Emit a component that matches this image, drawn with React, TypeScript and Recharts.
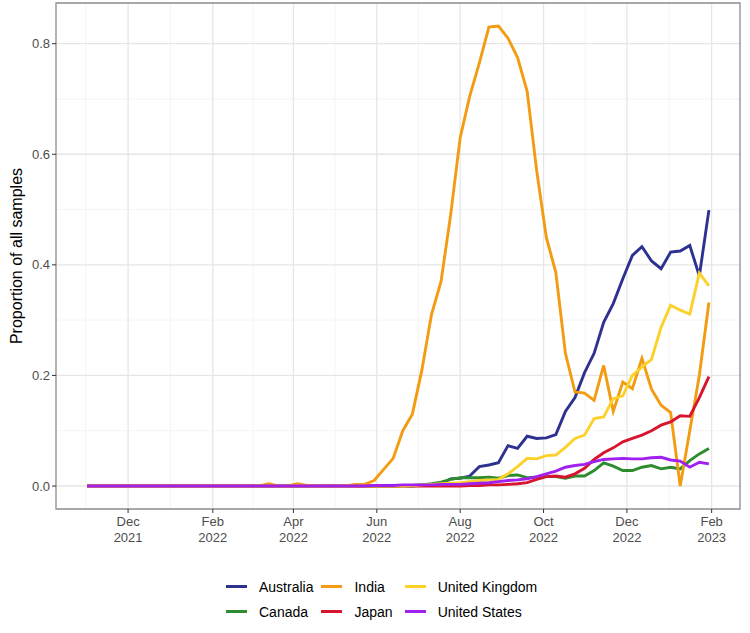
import React from "react";
import {
  LineChart,
  Line,
  XAxis,
  YAxis,
  CartesianGrid,
  ReferenceArea,
} from "recharts";

/* weekly sample dates (week start) */
const weeks = [
  "2021-11-01", "2021-11-08", "2021-11-15", "2021-11-22", "2021-11-29",
  "2021-12-06", "2021-12-13", "2021-12-20", "2021-12-27",
  "2022-01-03", "2022-01-10", "2022-01-17", "2022-01-24", "2022-01-31",
  "2022-02-07", "2022-02-14", "2022-02-21", "2022-02-28",
  "2022-03-07", "2022-03-14", "2022-03-21", "2022-03-28",
  "2022-04-04", "2022-04-11", "2022-04-18", "2022-04-25",
  "2022-05-02", "2022-05-09", "2022-05-16", "2022-05-23", "2022-05-30",
  "2022-06-06", "2022-06-13", "2022-06-20", "2022-06-27",
  "2022-07-04", "2022-07-11", "2022-07-18", "2022-07-25",
  "2022-08-01", "2022-08-08", "2022-08-15", "2022-08-22", "2022-08-29",
  "2022-09-05", "2022-09-12", "2022-09-19", "2022-09-26",
  "2022-10-03", "2022-10-10", "2022-10-17", "2022-10-24", "2022-10-31",
  "2022-11-07", "2022-11-14", "2022-11-21", "2022-11-28",
  "2022-12-05", "2022-12-12", "2022-12-19", "2022-12-26",
  "2023-01-02", "2023-01-09", "2023-01-16", "2023-01-23", "2023-01-30",
];

const australia = [
  0, 0, 0, 0, 0, 0, 0, 0, 0, 0, 0, 0, 0, 0, 0, 0, 0, 0, 0, 0, 0, 0, 0, 0, 0, 0, 0, 0, 0, 0, 0, 0, 0,
  0.001, 0.001, 0.002, 0.002, 0.004, 0.013, 0.014, 0.018, 0.035, 0.038, 0.042, 0.073, 0.068,
  0.09, 0.086, 0.087, 0.093, 0.135, 0.16, 0.205, 0.24, 0.296, 0.33, 0.375, 0.417, 0.433,
  0.407, 0.393, 0.423, 0.425, 0.435, 0.38, 0.499,
];
const canada = [
  0, 0, 0, 0, 0, 0, 0, 0, 0, 0, 0, 0, 0, 0, 0, 0, 0, 0, 0, 0, 0, 0, 0, 0, 0, 0, 0, 0, 0, 0, 0, 0, 0, 0, 0,
  0.002, 0.004, 0.007, 0.012, 0.015, 0.015, 0.015, 0.016, 0.014, 0.019, 0.02, 0.015, 0.016,
  0.017, 0.017, 0.014, 0.018, 0.018, 0.028, 0.042, 0.036, 0.028, 0.028, 0.034, 0.037, 0.031,
  0.034, 0.031, 0.046, 0.058, 0.068,
];
const india = [
  0, 0, 0, 0, 0, 0, 0, 0, 0, 0, 0, 0, 0, 0, 0, 0, 0, 0, 0, 0.004, 0, 0, 0.004, 0.001, 0, 0, 0, 0,
  0.003, 0.003, 0.01, 0.03, 0.05, 0.1, 0.13, 0.21, 0.31, 0.37, 0.49, 0.63, 0.705, 0.765, 0.83,
  0.832, 0.81, 0.775, 0.714, 0.57, 0.45, 0.386, 0.24, 0.17, 0.168, 0.155, 0.218, 0.135, 0.188,
  0.176, 0.231, 0.175, 0.146, 0.133, 0, 0.1, 0.2, 0.332,
];
const japan = [
  0, 0, 0, 0, 0, 0, 0, 0, 0, 0, 0, 0, 0, 0, 0, 0, 0, 0, 0, 0, 0, 0, 0, 0, 0, 0, 0, 0, 0, 0, 0, 0, 0, 0, 0,
  0, 0, 0, 0, 0, 0.001, 0.001, 0.002, 0.002, 0.003, 0.004, 0.006, 0.012, 0.017, 0.018, 0.016,
  0.022, 0.032, 0.048, 0.06, 0.069, 0.08, 0.086, 0.092, 0.1, 0.11, 0.116, 0.127, 0.126, 0.16, 0.198,
];
const unitedKingdom = [
  0, 0, 0, 0, 0, 0, 0, 0, 0, 0, 0, 0, 0, 0, 0, 0, 0, 0, 0, 0, 0, 0, 0, 0, 0, 0, 0, 0, 0, 0, 0, 0, 0, 0,
  0.001, 0.002, 0.003, 0.004, 0.005, 0.006, 0.008, 0.01, 0.011, 0.012, 0.022, 0.035, 0.05, 0.049,
  0.055, 0.056, 0.07, 0.086, 0.092, 0.122, 0.125, 0.158, 0.163, 0.2, 0.215, 0.229, 0.287, 0.327,
  0.318, 0.311, 0.385, 0.362,
];
const unitedStates = [
  0, 0, 0, 0, 0, 0, 0, 0, 0, 0, 0, 0, 0, 0, 0, 0, 0, 0, 0, 0, 0, 0, 0, 0, 0, 0, 0, 0, 0, 0,
  0.001, 0.001, 0.001, 0.002, 0.002, 0.002, 0.002, 0.003, 0.003, 0.003, 0.004, 0.005, 0.006,
  0.008, 0.01, 0.011, 0.013, 0.017, 0.022, 0.027, 0.034, 0.037, 0.039, 0.044, 0.048, 0.049,
  0.05, 0.049, 0.049, 0.051, 0.052, 0.047, 0.045, 0.034, 0.043, 0.04,
];

const countries = [
  { name: "Australia", values: australia, color: "#2d3190" },
  { name: "Canada", values: canada, color: "#2e8b2e" },
  { name: "India", values: india, color: "#f39c12" },
  { name: "Japan", values: japan, color: "#d7152f" },
  { name: "United Kingdom", values: unitedKingdom, color: "#fcd12a" },
  { name: "United States", values: unitedStates, color: "#a020f0" },
];

const majorBreaks = [
  "2021-12-01", "2022-02-01", "2022-04-01", "2022-06-01",
  "2022-08-01", "2022-10-01", "2022-12-01", "2023-02-01",
];
const monthNames = ["Jan", "Feb", "Mar", "Apr", "May", "Jun", "Jul", "Aug", "Sep", "Oct", "Nov", "Dec"];
const yBreaks = [0, 0.2, 0.4, 0.6, 0.8];

// legend is laid out in columns, filled top to bottom
const legendColumns = [
  ["Australia", "Canada"],
  ["India", "Japan"],
  ["United Kingdom", "United States"],
];

const data = weeks.map((w, i) => {
  const row: Record<string, number> = { t: Date.parse(w) };
  countries.forEach(c => (row[c.name] = c.values[i]));
  return row;
});

/* ggplot-style 5% expansion on both axes */
const tMin = data[0].t;
const tMax = data[data.length - 1].t;
const tPad = (tMax - tMin) * 0.05;
const xDomain = [tMin - tPad, tMax + tPad];
const yMax = Math.max(...countries.flatMap(c => c.values));
const yDomain = [-yMax * 0.05, yMax * 1.05];

const majorX = majorBreaks.map(d => Date.parse(d));
const minorX = [
  majorX[0] - (majorX[1] - majorX[0]) / 2,
  ...majorX.slice(1).map((v, i) => (v + majorX[i]) / 2),
];
const minorY = [0.1, 0.3, 0.5, 0.7];

const MonthTick = ({ x, y, payload }: any) => {
  const d = new Date(payload.value);
  return (
    <text x={x} y={y} textAnchor="middle" fill="#4d4d4d" fontSize={13}>
      <tspan x={x} dy={11}>{monthNames[d.getUTCMonth()]}</tspan>
      <tspan x={x} dy={16}>{d.getUTCFullYear()}</tspan>
    </text>
  );
};

export default function App() {
  const colorOf = (n: string) => countries.find(c => c.name === n)!.color;
  return (
    <div
      style={{
        position: "absolute",
        left: 0,
        top: 0,
        width: 750,
        height: 633,
        background: "#fff",
        fontFamily: "'Liberation Sans', Arial, sans-serif",
      }}
    >
      <LineChart
        width={750}
        height={560}
        data={data}
        margin={{ top: 3, right: 10, bottom: 0, left: 0 }}
      >
        <CartesianGrid
          stroke="#efefef"
          strokeWidth={0.7}
          horizontalValues={minorY}
          verticalValues={minorX}
        />
        <CartesianGrid
          stroke="#e6e6e6"
          strokeWidth={1.3}
          horizontalValues={yBreaks}
          verticalValues={majorX}
        />
        <XAxis
          dataKey="t"
          type="number"
          domain={xDomain}
          ticks={majorX}
          allowDataOverflow
          height={51}
          axisLine={false}
          tickLine={{ stroke: "#333" }}
          tickSize={4}
          tick={<MonthTick />}
          interval={0}
        />
        <YAxis
          type="number"
          domain={yDomain}
          ticks={yBreaks}
          allowDataOverflow
          width={56}
          axisLine={false}
          tickLine={{ stroke: "#333" }}
          tickSize={4}
          tickFormatter={(v: number) => v.toFixed(1)}
          tick={{ fill: "#4d4d4d", fontSize: 13 }}
        />
        {countries.map(c => (
          <Line
            key={c.name}
            dataKey={c.name}
            stroke={c.color}
            strokeWidth={2.9}
            dot={false}
            type="linear"
            isAnimationActive={false}
          />
        ))}
        <ReferenceArea
          x1={xDomain[0]}
          x2={xDomain[1]}
          y1={yDomain[0]}
          y2={yDomain[1]}
          fill="none"
          stroke="#8c8c8c"
          strokeWidth={1.3}
          ifOverflow="visible"
        />
      </LineChart>

      <svg
        width={30}
        height={510}
        style={{ position: "absolute", left: 0, top: 0 }}
      >
        <text
          transform="translate(22,256) rotate(-90)"
          textAnchor="middle"
          fontSize={16}
          fill="#000"
        >
          Proportion of all samples
        </text>
      </svg>

      <div
        style={{
          position: "absolute",
          left: 226,
          top: 574,
          display: "flex",
          fontSize: 14,
          color: "#000",
        }}
      >
        {legendColumns.map((col, ci) => (
          <div key={ci} style={{ marginRight: ci === 0 ? 8 : 12 }}>
            {col.map(name => (
              <div
                key={name}
                style={{ display: "flex", alignItems: "center", height: 25 }}
              >
                <span
                  style={{
                    display: "inline-block",
                    width: 21,
                    height: 3,
                    background: colorOf(name),
                    marginRight: 12,
                  }}
                />
                <span>{name}</span>
              </div>
            ))}
          </div>
        ))}
      </div>
    </div>
  );
}
